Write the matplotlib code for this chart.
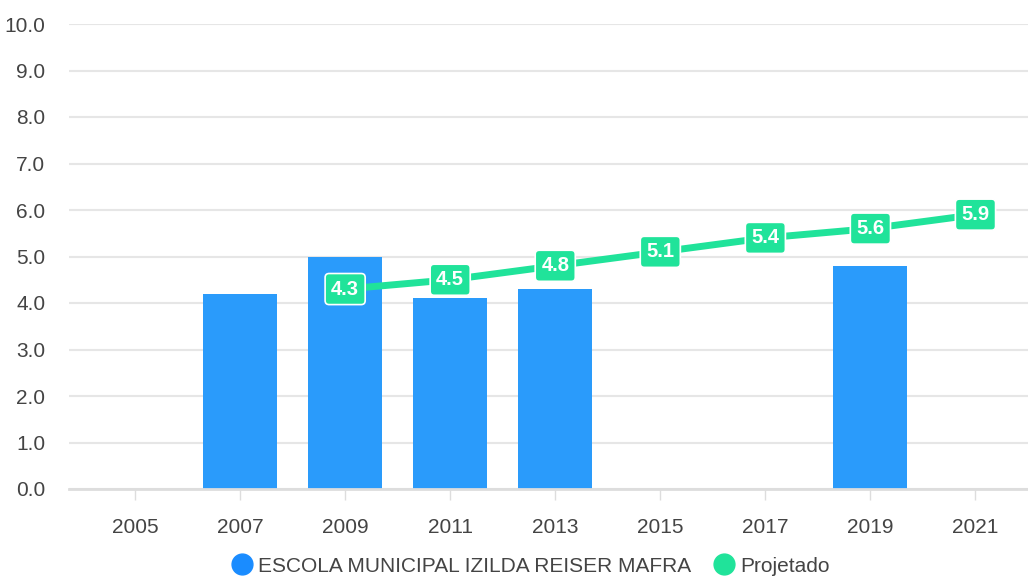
import matplotlib
matplotlib.use("Agg")
import matplotlib.pyplot as plt
import numpy as np
from matplotlib.lines import Line2D

years = ["2005", "2007", "2009", "2011", "2013", "2015", "2017", "2019", "2021"]
escola = [None, 4.2, 5.0, 4.1, 4.3, None, None, 4.8, None]
projetado = [None, None, 4.3, 4.5, 4.8, 5.1, 5.4, 5.6, 5.9]
yticks = [0, 1, 2, 3, 4, 5, 6, 7, 8, 9, 10]

bar_color = "#2a9bfb"
line_color = "#20e39a"
text_color = "#444444"

plt.rcParams['font.family'] = ['Liberation Sans', 'DejaVu Sans']

fig = plt.figure(figsize=(10.28, 5.76), dpi=100)
W, H = 1028, 576
ax = fig.add_axes([69 / W, 1 - 489 / H, (W - 69) / W, (489 - 24) / H])

x = np.arange(len(years))
bx = [i for i, v in enumerate(escola) if v is not None]
bv = [v for v in escola if v is not None]
ax.bar(bx, bv, width=0.705, color=bar_color, zorder=2)

lx = [i for i, v in enumerate(projetado) if v is not None]
lv = [v for v in projetado if v is not None]
ax.plot(lx, lv, color=line_color, lw=5, solid_capstyle='butt', zorder=3)
for i, v in zip(lx, lv):
    ax.text(i, v, f"{v:.1f}", ha='center', va='center', color='white',
            fontsize=14.5, fontweight='bold', zorder=5,
            bbox=dict(boxstyle='round,pad=0.3,rounding_size=0.2', fc=line_color,
                      ec='white', lw=1.2))

ax.set_ylim(0, 10)
ax.set_xlim(-0.5 - 13.5 / 105, 8.5)
ax.set_yticks(yticks)
ax.set_yticklabels([f"{t:.1f}" for t in yticks])
ax.set_xticks(x)
ax.set_xticklabels(years)
ax.grid(axis='y', color='#e6e6e6', lw=1.5, zorder=0)
ax.set_axisbelow(True)
for s in ['top', 'right', 'left']:
    ax.spines[s].set_visible(False)
ax.spines['bottom'].set_color('#dddddd')
ax.spines['bottom'].set_linewidth(2)
ax.tick_params(axis='y', length=0, pad=17, labelsize=15, labelcolor=text_color)
ax.tick_params(axis='x', length=8, width=1, color='#dddddd', pad=13,
               labelsize=15, labelcolor=text_color)

handles = [Line2D([], [], marker='o', ls='none', markersize=15, color='#1a8cff',
                  label='ESCOLA MUNICIPAL IZILDA REISER MAFRA'),
           Line2D([], [], marker='o', ls='none', markersize=15, color=line_color,
                  label='Projetado')]
leg = fig.legend(handles=handles, loc='center', bbox_to_anchor=(531 / W, 1 - 566 / H),
                 ncol=2, frameon=False, fontsize=15, handletextpad=0.35,
                 columnspacing=1.1, handlelength=0.9)
for t in leg.get_texts():
    t.set_color(text_color)

fig.savefig("out.png", dpi=100)
